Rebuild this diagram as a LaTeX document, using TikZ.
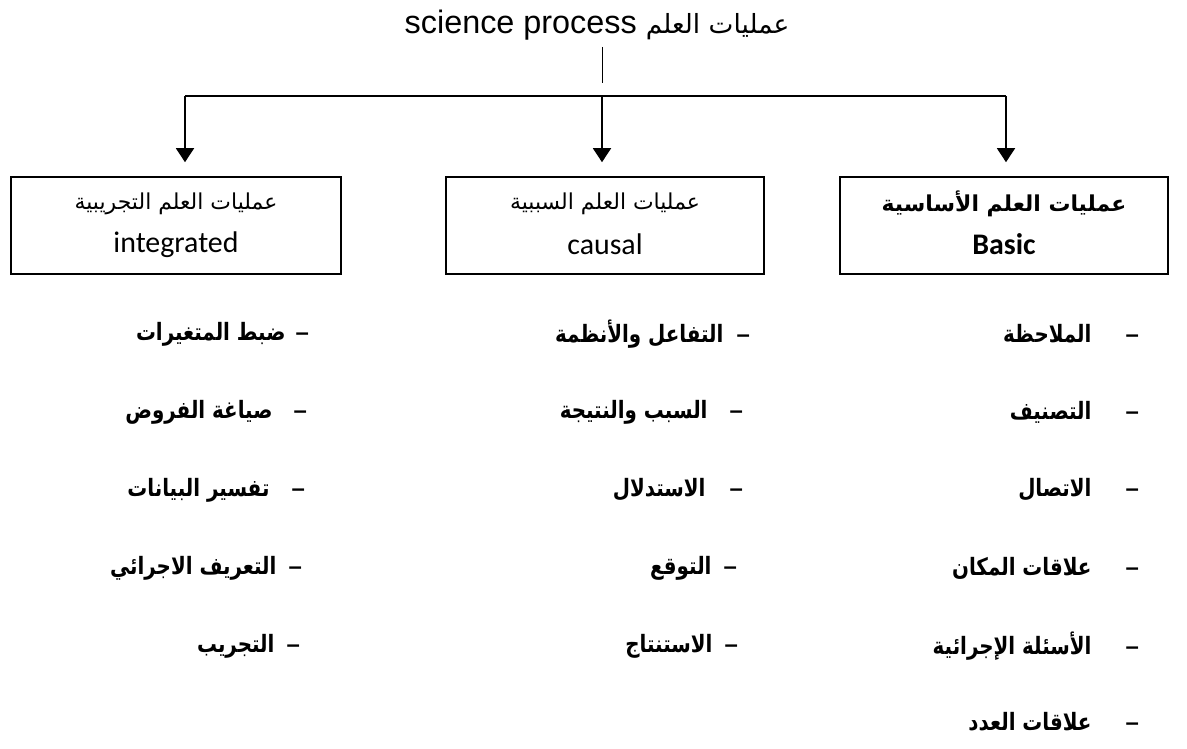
\documentclass[tikz,border=0pt]{standalone}
\usepackage{fontspec}
\setmainfont{Liberation Sans}
\newfontfamily\arabicfont[Script=Arabic]{DejaVu Sans}
\newfontfamily\itemfont[Script=Arabic, FakeStretch=0.83]{DejaVu Sans}
\newfontfamily\boxlatin{Carlito}
\TeXXeTstate=1
\usetikzlibrary{arrows.meta}

\begin{document}
\begin{tikzpicture}[x=1bp,y=-1bp,
  catbox/.style={draw, line width=1.6bp, minimum height=97bp, inner sep=0pt},
  boxar/.style={inner sep=0pt, font=\arabicfont\fontsize{22}{26}\selectfont},
  boxen/.style={inner sep=0pt, font=\boxlatin\fontsize{30}{34}\selectfont},
  bus/.style={line width=1.6bp},
  stem/.style={line width=1bp},
  arr/.style={line width=1.6bp, -{Triangle[length=14bp,width=18bp]}, shorten >=14bp},
  item/.style={anchor=east, inner sep=0pt, font=\itemfont\bfseries\fontsize{24}{28}\selectfont}]
\useasboundingbox (0,0) rectangle (1187,749);
\newcommand\dashmark{{\rmfamily\fontsize{24}{28}\selectfont –}}

% heading
\node (title) at (597,25) {\fontsize{32.5}{38}\selectfont science process\hspace{9bp}{\arabicfont\fontsize{26.5}{32}\selectfont\beginR عمليات العلم\endR}};
\coordinate (stemtop) at (602,47);
\coordinate (stembot) at (602,83);
\draw[stem] (stemtop) -- (stembot);

% category boxes: Arabic name above, English name below
\node[catbox, minimum width=330bp] (integ) at (176,225.5) {};
\node[boxar] (integar) at ([yshift=22bp]integ.center) {\beginR عمليات العلم التجريبية\endR};
\node[boxen] (integen) at ([yshift=-19bp]integ.center) {integrated};

\node[catbox, minimum width=318bp] (causal) at (605,225.5) {};
\node[boxar] (causalar) at ([yshift=22bp]causal.center) {\beginR عمليات العلم السببية\endR};
\node[boxen] (causalen) at ([yshift=-19bp]causal.center) {causal};

\node[catbox, minimum width=328bp] (basic) at (1004,225.5) {};
\node[boxar, font=\arabicfont\bfseries\fontsize{22}{26}\selectfont] (basicar) at ([yshift=22bp]basic.center) {\beginR عمليات العلم الأساسية\endR};
\node[boxen, font=\boxlatin\bfseries\fontsize{30}{34}\selectfont] (basicen) at ([yshift=-19bp]basic.center) {Basic};

% distribution line with arrows
\coordinate (busL) at (185,96);
\coordinate (busM) at (602,96);
\coordinate (busR) at (1006,96);
\draw[bus] (busL) -- (busR);
\draw[arr] (busL) -- (busL |- integ.north);
\draw[arr] (busM) -- (busM |- causal.north);
\draw[arr] (busR) -- (busR |- basic.north);

% basic processes
\node[item] (b1) at (1139,334) {\beginR\dashmark\hspace{34bp}الملاحظة\endR};
\node[item] (b2) at (1139,412) {\beginR\dashmark\hspace{34bp}التصنيف\endR};
\node[item] (b3) at (1139,490) {\beginR\dashmark\hspace{34bp}الاتصال\endR};
\node[item] (b4) at (1139,568) {\beginR\dashmark\hspace{34bp}علاقات المكان\endR};
\node[item] (b5) at (1139,646) {\beginR\dashmark\hspace{34bp}الأسئلة الإجرائية\endR};
\node[item] (b6) at (1139,722) {\beginR\dashmark\hspace{34bp}علاقات العدد\endR};

% causal processes
\node[item] (c1) at (750,334) {\beginR\dashmark\hspace{13bp}التفاعل والأنظمة\endR};
\node[item] (c2) at (743,412) {\beginR\dashmark\hspace{22bp}السبب والنتيجة\endR};
\node[item] (c3) at (743,490) {\beginR\dashmark\hspace{24bp}الاستدلال\endR};
\node[item] (c4) at (737,568) {\beginR\dashmark\hspace{12bp}التوقع\endR};
\node[item] (c5) at (738,646) {\beginR\dashmark\hspace{12bp}الاستنتاج\endR};

% integrated processes
\node[item] (i1) at (309,334) {\beginR\dashmark\hspace{10bp}ضبط المتغيرات\endR};
\node[item] (i2) at (307,412) {\beginR\dashmark\hspace{21bp}صياغة الفروض\endR};
\node[item] (i3) at (305,490) {\beginR\dashmark\hspace{22bp}تفسير البيانات\endR};
\node[item] (i4) at (302,568) {\beginR\dashmark\hspace{12bp}التعريف الاجرائي\endR};
\node[item] (i5) at (300,646) {\beginR\dashmark\hspace{12bp}التجريب\endR};
\end{tikzpicture}
\end{document}
